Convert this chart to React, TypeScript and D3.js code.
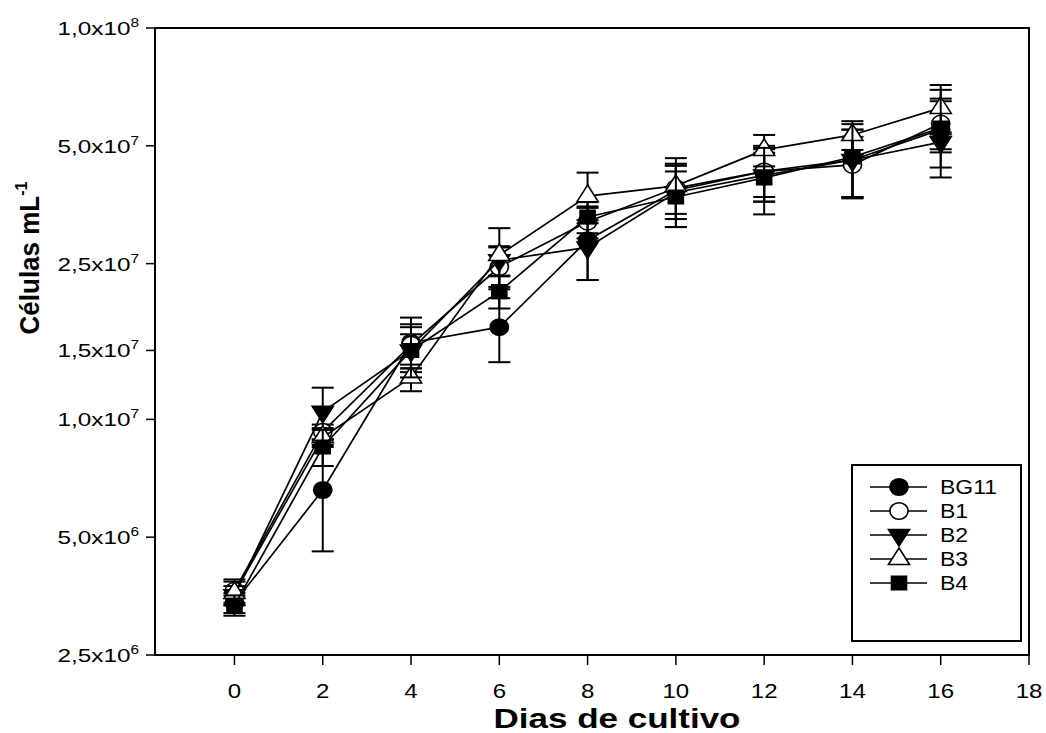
import React from 'react';
import * as d3 from 'd3';

// dias de cultivo
const days = [0, 2, 4, 6, 8, 10, 12, 14, 16];

const seriesNames = ['BG11', 'B1', 'B2', 'B3', 'B4'];

// células mL-1 (media) e desvio
const bg11 = [3.4e6, 6.6e6, 1.57e7, 1.72e7, 2.87e7, 3.85e7, 4.3e7, 4.6e7, 5.5e7];
const bg11Err = [0.2e6, 2.0e6, 0.25e7, 0.32e7, 0.6e7, 0.6e7, 0.7e7, 0.9e7, 1.1e7];
const b1 = [3.65e6, 9.3e6, 1.55e7, 2.45e7, 3.2e7, 3.9e7, 4.3e7, 4.47e7, 5.7e7];
const b1Err = [0.25e6, 0.4e6, 0.2e7, 0.3e7, 0.3e7, 0.55e7, 0.6e7, 0.8e7, 0.8e7];
const b2 = [3.55e6, 1.045e7, 1.5e7, 2.55e7, 2.75e7, 3.8e7, 4.2e7, 4.6e7, 5.11e7];
const b2Err = [0.2e6, 1.6e6, 0.15e7, 0.22e7, 0.48e7, 0.7e7, 0.6e7, 0.9e7, 0.3e7];
const b3 = [3.6e6, 9.0e6, 1.28e7, 2.63e7, 3.72e7, 3.95e7, 4.88e7, 5.33e7, 6.25e7];
const b3Err = [0.25e6, 0.5e6, 0.1e7, 0.45e7, 0.55e7, 0.7e7, 0.45e7, 0.45e7, 0.9e7];
const b4 = [3.35e6, 8.5e6, 1.5e7, 2.12e7, 3.29e7, 3.7e7, 4.14e7, 4.68e7, 5.55e7];
const b4Err = [0.2e6, 0.9e6, 0.22e7, 0.2e7, 0.3e7, 0.6e7, 0.8e7, 1.0e7, 1.4e7];

const seriesValues = [bg11, b1, b2, b3, b4];
const seriesErrors = [bg11Err, b1Err, b2Err, b3Err, b4Err];

const xTicks = [0, 2, 4, 6, 8, 10, 12, 14, 16, 18];
const yTicks = [2.5e6, 5e6, 1e7, 1.5e7, 2.5e7, 5e7, 1e8];
const yTickMantissa = ['2,5', '5,0', '1,0', '1,5', '2,5', '5,0', '1,0'];
const yTickExponent = ['6', '6', '7', '7', '7', '7', '8'];

const W = 1046;
const H = 733;
const plot = { left: 155, right: 1029, top: 28, bottom: 655 };
const font = 'Arial, "Liberation Sans", Helvetica, sans-serif';

const x = d3.scaleLinear().domain([-1.8, 18]).range([plot.left, plot.right]);
const y = d3.scaleLog().domain([2.5e6, 1e8]).range([plot.bottom, plot.top]);

const symbolOf = (i: number) => {
  const s = d3.symbol();
  if (i === 0 || i === 1) return s.type(d3.symbolCircle).size(215)();
  if (i === 2 || i === 3) return s.type(d3.symbolTriangle).size(160)();
  return s.type(d3.symbolSquare).size(185)();
};
const filled = [true, false, true, false, true];
const rotation = [0, 0, 180, 0, 0];

const Marker = ({ i, cx, cy }: { i: number; cx: number; cy: number }) => (
  <path
    d={symbolOf(i) || ''}
    transform={`translate(${cx},${cy}) scale(1.1,1) rotate(${rotation[i]})`}
    fill={filled[i] ? '#000' : '#fff'}
    stroke="#000"
    strokeWidth={1.5}
  />
);

const App = () => {
  const line = d3
    .line<number>()
    .x((_, k) => x(days[k]))
    .y((d) => y(d));
  const cap = 11;

  return (
    <svg
      width={W}
      height={H}
      style={{ position: 'absolute', left: 0, top: 0, background: '#fff' }}
      fontFamily={font}
    >
      {/* series */}
      {seriesValues.map((vals, i) => (
        <g key={seriesNames[i]}>
          <path d={line(vals) || ''} fill="none" stroke="#000" strokeWidth={1.7} />
          {vals.map((v, k) => {
            const e = seriesErrors[i][k];
            const cx = x(days[k]);
            const y1 = y(v + e);
            const y0 = y(Math.max(v - e, 2.6e6));
            return (
              <g key={k} stroke="#000" strokeWidth={2}>
                <line x1={cx} x2={cx} y1={y1} y2={y0} />
                <line x1={cx - cap} x2={cx + cap} y1={y1} y2={y1} />
                <line x1={cx - cap} x2={cx + cap} y1={y0} y2={y0} />
              </g>
            );
          })}
          {vals.map((v, k) => (
            <Marker key={'m' + k} i={i} cx={x(days[k])} cy={y(v)} />
          ))}
        </g>
      ))}

      {/* frame */}
      <rect
        x={plot.left}
        y={plot.top}
        width={plot.right - plot.left}
        height={plot.bottom - plot.top}
        fill="none"
        stroke="#000"
        strokeWidth={2}
      />

      {/* x axis */}
      {xTicks.map((t) => (
        <g key={t}>
          <line x1={x(t)} x2={x(t)} y1={plot.bottom} y2={plot.bottom + 10} stroke="#000" strokeWidth={1.5} />
          <text transform={`translate(${x(t)},${plot.bottom + 43}) scale(1.2,1)`} textAnchor="middle" fontSize={20}>
            {t}
          </text>
        </g>
      ))}
      <text transform={`translate(617,728) scale(1.25,1)`} textAnchor="middle" fontSize={28} fontWeight="bold">
        Dias de cultivo
      </text>

      {/* y axis */}
      {yTicks.map((t, i) => (
        <g key={t}>
          <line x1={plot.left - 9} x2={plot.left} y1={y(t)} y2={y(t)} stroke="#000" strokeWidth={1.5} />
          <text transform={`translate(139,${y(t) + 7}) scale(1.28,1)`} textAnchor="end" fontSize={19}>
            {yTickMantissa[i]}x10
            <tspan fontSize={12} dy={-8}>
              {yTickExponent[i]}
            </tspan>
          </text>
        </g>
      ))}
      <text
        transform={`translate(39,258) scale(1.08,1) rotate(-90)`}
        textAnchor="middle"
        fontSize={26}
        fontWeight="bold"
      >
        Células mL
        <tspan fontSize={16} dy={-11}>
          -1
        </tspan>
      </text>

      {/* legend */}
      <rect x={852} y={465} width={169} height={176} fill="#fff" stroke="#000" strokeWidth={2} />
      {seriesNames.map((n, i) => {
        const ly = 487 + i * 24;
        return (
          <g key={n}>
            <line x1={870} x2={927} y1={ly} y2={ly} stroke="#000" strokeWidth={1.7} />
            <Marker i={i} cx={899} cy={ly} />
            <text transform={`translate(940,${ly + 7}) scale(1.15,1)`} fontSize={20}>
              {n}
            </text>
          </g>
        );
      })}
    </svg>
  );
};

export default App;
